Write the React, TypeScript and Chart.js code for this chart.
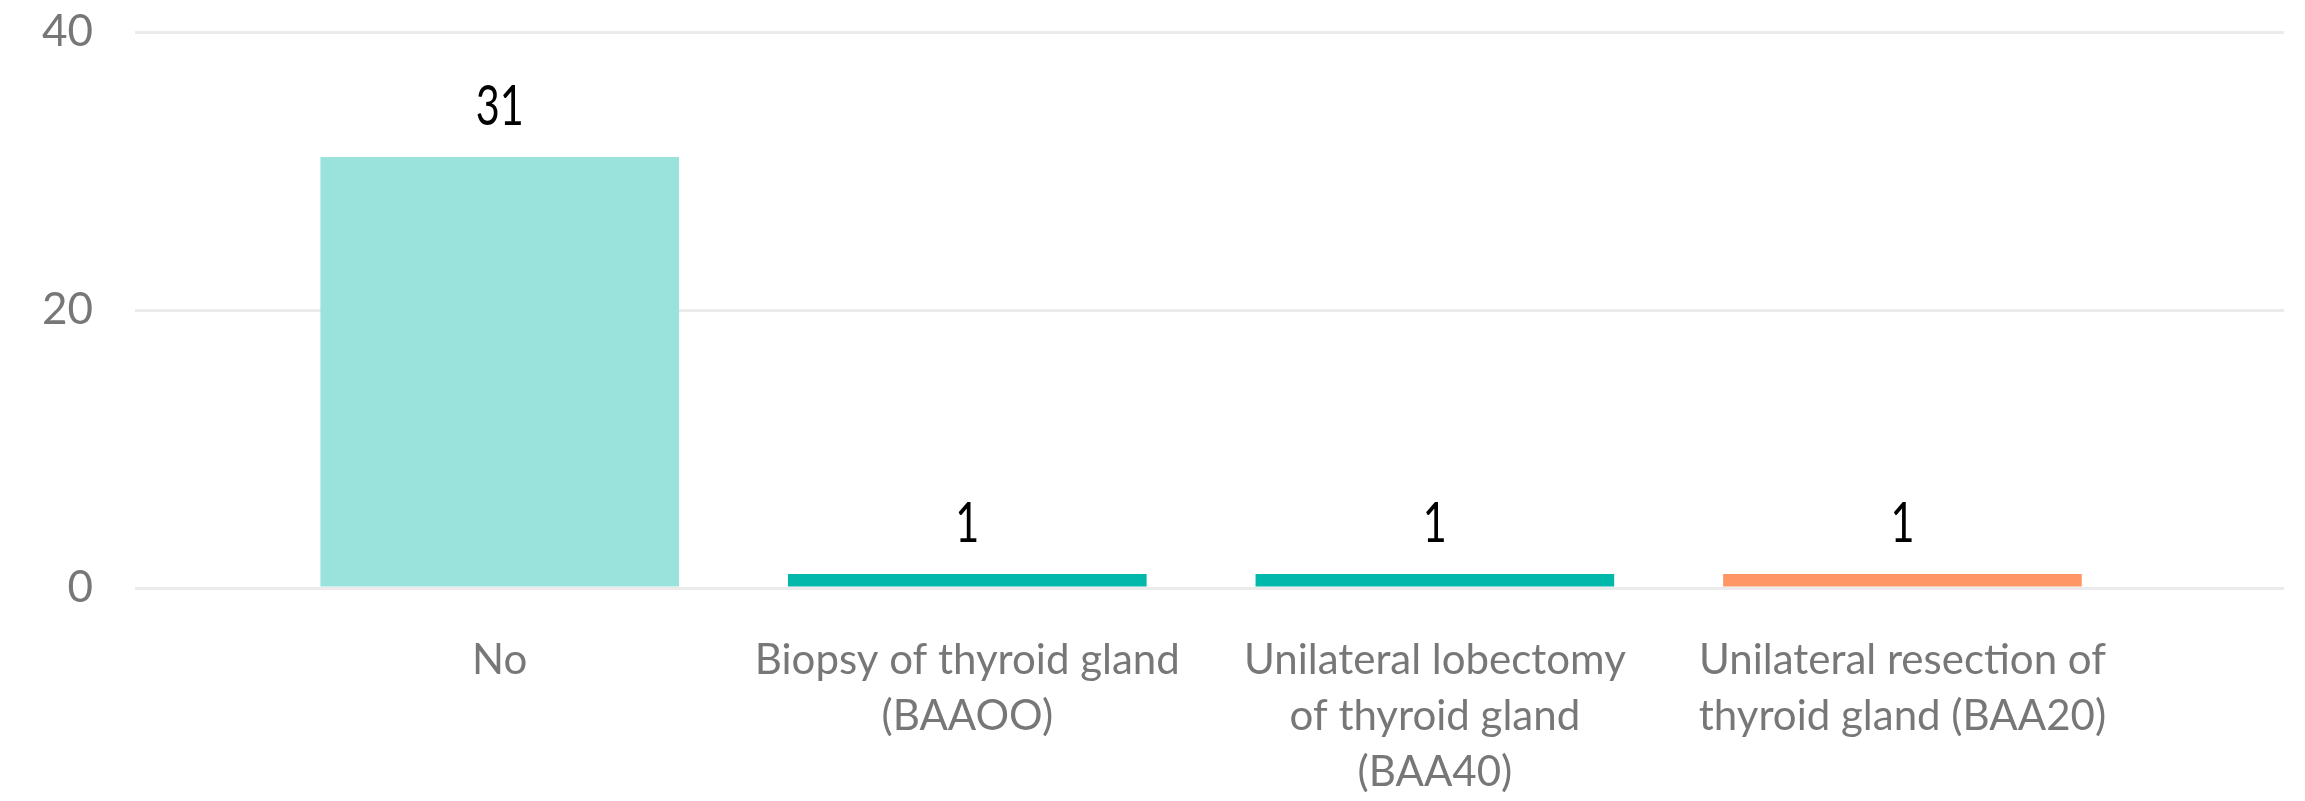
import React, { useEffect, useRef } from "react";
import { Chart, registerables } from "chart.js";

Chart.register(...registerables);

const categories: string[][] = [
  ["No"],
  ["Biopsy of thyroid gland", "(BAAOO)"],
  ["Unilateral lobectomy", "of thyroid gland", "(BAA40)"],
  ["Unilateral resection of", "thyroid gland (BAA20)"],
];
const counts: number[] = [31, 1, 1, 1];
const barColors: string[] = ["#9AE3DC", "#01B8AA", "#01B8AA", "#FE9666"];
const yTickValues: number[] = [0, 20, 40];

const dataLabelPlugin = {
  id: "dataLabels",
  afterDatasetsDraw(chart: any) {
    const ctx = chart.ctx;
    const meta = chart.getDatasetMeta(0);
    ctx.save();
    ctx.fillStyle = "#000000";
    ctx.font = "56px Lato, sans-serif";
    ctx.textAlign = "center";
    ctx.textBaseline = "alphabetic";
    meta.data.forEach((bar: any, i: number) => {
      ctx.save();
      ctx.translate(bar.x, bar.y - 32);
      ctx.scale(0.74, 1);
      ctx.fillText(String(counts[i]), 0, 0);
      ctx.restore();
    });
    ctx.restore();
  },
};

export default function App() {
  const ref = useRef<HTMLCanvasElement>(null);

  useEffect(() => {
    if (!ref.current) return;
    const chart = new Chart(ref.current, {
      type: "bar",
      data: {
        datasets: [
          {
            data: counts.map((v, i) => ({ x: i, y: v })),
            backgroundColor: barColors,
            borderWidth: 0,
            barPercentage: 0.767,
            categoryPercentage: 1,
          },
        ],
      },
      options: {
        animation: false,
        responsive: false,
        layout: { padding: { top: 32, right: 21, left: 0, bottom: 0 } },
        plugins: {
          legend: { display: false },
          tooltip: { enabled: false },
        },
        scales: {
          x: {
            type: "linear",
            offset: false,
            min: -0.78,
            max: 3.816,
            grid: { display: false, drawTicks: false, offset: false },
            border: { display: false },
            afterBuildTicks: (s: any) => {
              s.ticks = categories.map((_, i) => ({ value: i }));
            },
            afterFit: (s: any) => {
              s.height = 213;
              s.paddingLeft = 0;
              s.paddingRight = 0;
            },
            ticks: {
              autoSkip: false,
              maxRotation: 0,
              minRotation: 0,
              padding: 45,
              color: "#777777",
              font: { family: "Lato, sans-serif", size: 42, lineHeight: 1.33 },
              callback: (v: any) => {
                const i = Math.round(Number(v));
                return categories[i] ?? "";
              },
            },
          },
          y: {
            min: 0,
            max: 40,
            afterBuildTicks: (s: any) => {
              s.ticks = yTickValues.map((v) => ({ value: v }));
            },
            afterFit: (s: any) => {
              s.width = 135;
              s.paddingTop = 0;
              s.paddingBottom = 0;
            },
            grid: { color: "#EBEBEB", lineWidth: 3, drawTicks: false },
            border: { display: false },
            ticks: {
              padding: 42,
              color: "#777777",
              font: { family: "Lato, sans-serif", size: 44 },
            },
          },
        },
      },
      plugins: [dataLabelPlugin],
    });
    return () => chart.destroy();
  }, []);

  return (
    <div style={{ position: "fixed", left: 0, top: 0, width: 2305, height: 801, background: "#ffffff" }}>
      <canvas ref={ref} width={2305} height={801} style={{ display: "block" }} />
    </div>
  );
}
